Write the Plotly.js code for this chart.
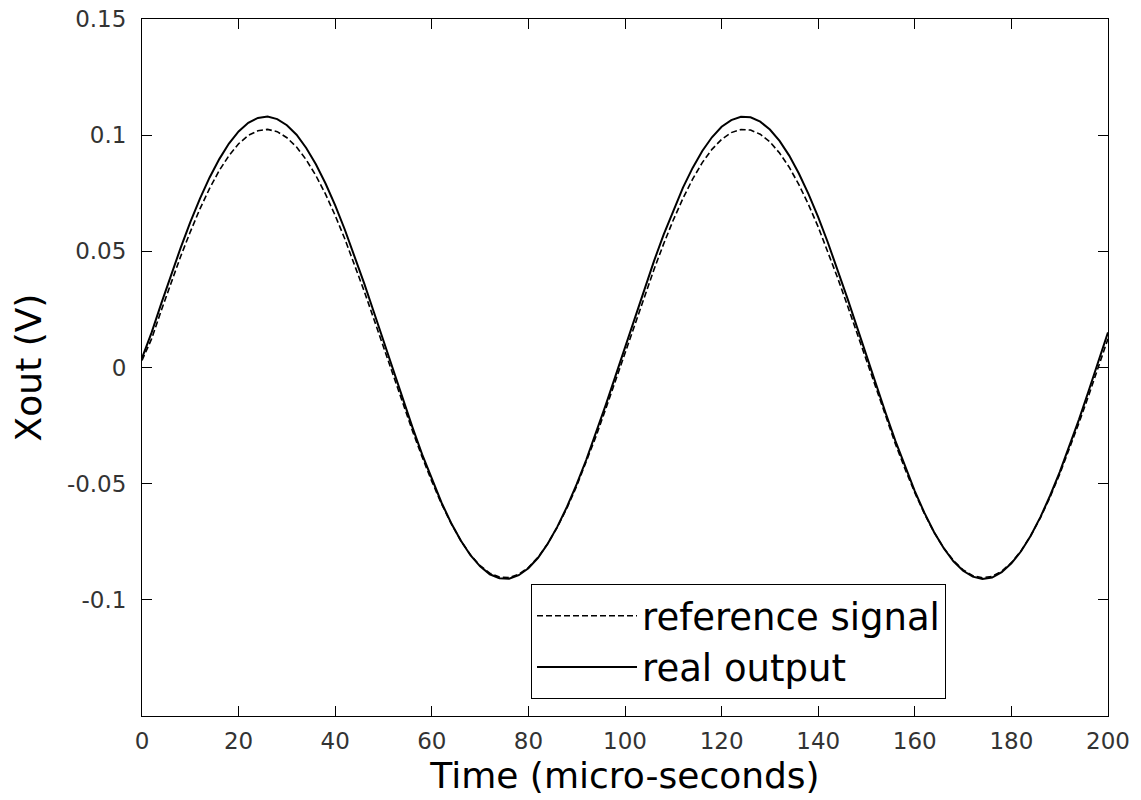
<!DOCTYPE html>
<html>
<head>
<meta charset="utf-8">
<script src="https://cdn.plot.ly/plotly-3.0.1.min.js"></script>
<style>
html,body{margin:0;padding:0;background:#fff;}
#chart{width:1141px;height:800px;}
</style>
</head>
<body>
<div id="chart"></div>
<script>
// Time axis (micro-seconds), sampled every 2 us
const timeUs = [0,2,4,6,8,10,12,14,16,18,20,22,24,26,28,30,32,34,36,38,40,42,44,46,48,50,52,54,56,58,60,62,64,66,68,70,72,74,76,78,80,82,84,86,88,90,92,94,96,98,100,102,104,106,108,110,112,114,116,118,120,122,124,126,128,130,132,134,136,138,140,142,144,146,148,150,152,154,156,158,160,162,164,166,168,170,172,174,176,178,180,182,184,186,188,190,192,194,196,198,200];

// Reference signal (dashed), Volts
const referenceSignal = [0.0030,0.0124,0.0246,0.0364,0.0478,0.0584,0.0683,0.0771,0.0848,0.0912,0.0963,0.0999,0.1019,0.1025,0.1015,0.0989,0.0949,0.0894,0.0826,0.0746,0.0654,0.0553,0.0444,0.0329,0.0209,0.0088,-0.0035,-0.0156,-0.0273,-0.0385,-0.0490,-0.0586,-0.0671,-0.0745,-0.0806,-0.0853,-0.0885,-0.0902,-0.0904,-0.0890,-0.0861,-0.0817,-0.0758,-0.0687,-0.0604,-0.0510,-0.0407,-0.0296,-0.0179,-0.0059,0.0063,0.0185,0.0305,0.0422,0.0532,0.0635,0.0728,0.0811,0.0882,0.0939,0.0982,0.1011,0.1024,0.1022,0.1004,0.0971,0.0923,0.0862,0.0787,0.0701,0.0605,0.0500,0.0387,0.0270,0.0149,0.0026,-0.0096,-0.0215,-0.0330,-0.0438,-0.0539,-0.0630,-0.0710,-0.0777,-0.0831,-0.0871,-0.0896,-0.0905,-0.0899,-0.0877,-0.0840,-0.0789,-0.0724,-0.0647,-0.0558,-0.0459,-0.0352,-0.0238,-0.0120,0.0002,0.0124];

// Real output (solid), Volts
const realOutput = [0.0040,0.0151,0.0276,0.0399,0.0515,0.0626,0.0727,0.0818,0.0897,0.0964,0.1016,0.1053,0.1074,0.1080,0.1069,0.1043,0.1002,0.0945,0.0875,0.0792,0.0698,0.0593,0.0481,0.0362,0.0239,0.0113,-0.0013,-0.0137,-0.0258,-0.0374,-0.0482,-0.0581,-0.0669,-0.0745,-0.0808,-0.0856,-0.0890,-0.0907,-0.0909,-0.0894,-0.0864,-0.0819,-0.0759,-0.0685,-0.0599,-0.0502,-0.0396,-0.0282,-0.0162,-0.0038,0.0088,0.0214,0.0338,0.0458,0.0572,0.0677,0.0774,0.0859,0.0932,0.0991,0.1036,0.1065,0.1079,0.1077,0.1058,0.1024,0.0975,0.0912,0.0835,0.0746,0.0647,0.0538,0.0422,0.0301,0.0176,0.0050,-0.0075,-0.0198,-0.0317,-0.0429,-0.0532,-0.0626,-0.0709,-0.0778,-0.0834,-0.0875,-0.0900,-0.0910,-0.0904,-0.0881,-0.0843,-0.0791,-0.0724,-0.0644,-0.0552,-0.0450,-0.0340,-0.0223,-0.0100,0.0025,0.0151];

const xTickVals = [0,20,40,60,80,100,120,140,160,180,200];
const yTickVals = [-0.1,-0.05,0,0.05,0.1,0.15];
const yTickText = ['-0.1','-0.05','0','0.05','0.1','0.15'];

const FONT = 'DejaVu Sans, Arial, sans-serif';

const traces = [
  {
    x: timeUs, y: referenceSignal, name: 'reference signal',
    type: 'scatter', mode: 'lines',
    line: {color: '#000', width: 1.6, dash: '6px,3px'}
  },
  {
    x: timeUs, y: realOutput, name: 'real output',
    type: 'scatter', mode: 'lines',
    line: {color: '#000', width: 2}
  }
];

const axisCommon = {
  showgrid: false, zeroline: false,
  showline: true, linecolor: '#000', linewidth: 1, mirror: 'ticks',
  ticks: 'inside', ticklen: 10, tickwidth: 1, tickcolor: '#000',
  tickfont: {family: FONT, size: 23, color: '#333'}
};

const layout = {
  width: 1141, height: 800,
  paper_bgcolor: '#fff', plot_bgcolor: '#fff',
  margin: {l: 142, r: 33, t: 19, b: 84},
  xaxis: Object.assign({}, axisCommon, {
    range: [0, 200], tickvals: xTickVals,
    ticklabelstandoff: 4,
    title: {text: 'Time (micro-seconds)', font: {family: FONT, size: 36, color: '#000'}, standoff: 10}
  }),
  yaxis: Object.assign({}, axisCommon, {
    range: [-0.15, 0.15], tickvals: yTickVals, ticktext: yTickText,
    ticklabelstandoff: 10,
    title: {text: 'Xout (V)', font: {family: FONT, size: 36, color: '#000'}, standoff: 14}
  }),
  showlegend: true,
  legend: {
    x: 0.4027, y: 0.024, xanchor: 'left', yanchor: 'bottom',
    bgcolor: '#fff', bordercolor: '#000', borderwidth: 1,
    font: {family: FONT, size: 37, color: '#000'},
    itemwidth: 100, entrywidth: 438, entrywidthmode: 'pixels', tracegroupgap: 0
  }
};

Plotly.newPlot('chart', traces, layout, {displayModeBar: false, staticPlot: true});
</script>
</body>
</html>
